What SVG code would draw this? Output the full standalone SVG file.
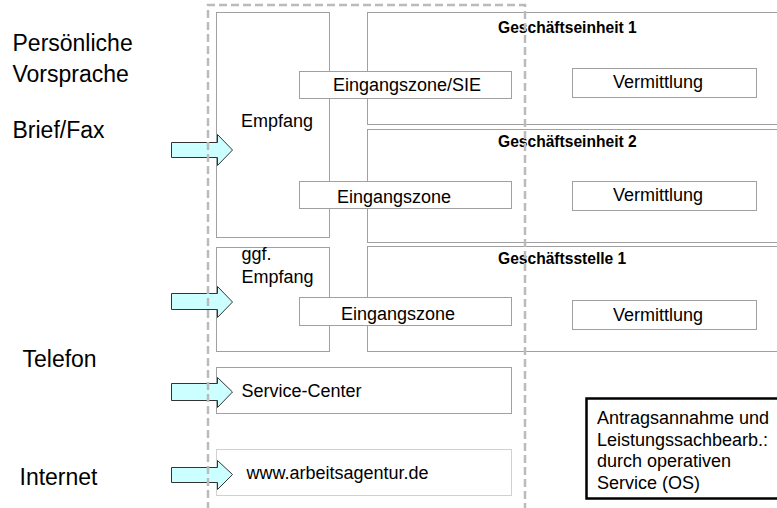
<svg xmlns="http://www.w3.org/2000/svg" width="777" height="508" viewBox="0 0 777 508">
<style>
text{font-family:"Liberation Sans",Arial,Helvetica,sans-serif;fill:#000}
.lbl{font-size:23px}
.t{font-size:18px}
.h{font-size:15.6px;font-weight:bold}
.box{fill:#fff;stroke:#a0a0a0;stroke-width:1}
.dot{fill:#fff;stroke:#a0a0a0;stroke-width:1;stroke-dasharray:1 1}
.arr{fill:#ccffff;stroke:#333;stroke-width:1}
.frame{fill:none;stroke:#bbb;stroke-width:2.5;stroke-dasharray:8 4}
</style>
<rect width="777" height="508" fill="#fff"/>
<g id="labels">
<text class="lbl" x="12.5" y="51">Persönliche</text>
<text class="lbl" x="12.5" y="82">Vorsprache</text>
<text class="lbl" x="12.5" y="138">Brief/Fax</text>
<text class="lbl" x="22.5" y="367">Telefon</text>
<text class="lbl" x="19.5" y="485">Internet</text>
</g>
<g id="empfang"><rect class="box" x="216.5" y="12.5" width="113" height="225"/><text class="t" x="241" y="127">Empfang</text></g>
<g id="ggf-empfang"><rect class="box" x="216.5" y="247.5" width="113" height="104"/><text class="t" x="241.5" y="260">ggf.</text><text class="t" x="241.5" y="283">Empfang</text></g>
<g id="ge1"><rect class="box" x="367.5" y="12.5" width="430" height="112"/><text class="h" x="498" y="32.5">Geschäftseinheit 1</text></g>
<g id="ge2"><rect class="box" x="367.5" y="129.5" width="430" height="113"/><text class="h" x="498" y="146.5">Geschäftseinheit 2</text></g>
<g id="gs1"><rect class="box" x="367.5" y="246.5" width="430" height="105"/><text class="h" x="498" y="264">Geschäftsstelle 1</text></g>
<g id="ez-sie"><rect class="box" x="299.5" y="71.5" width="212" height="27"/><text class="t" x="333" y="91">Eingangszone/SIE</text></g>
<g id="ez2"><rect class="box" x="299.5" y="181.5" width="212" height="27"/><text class="t" x="337" y="203">Eingangszone</text></g>
<g id="ez3"><rect class="box" x="299.5" y="297.5" width="212" height="28"/><text class="t" x="341" y="319.5">Eingangszone</text></g>
<g id="verm1"><rect class="box" x="572.5" y="68.5" width="184" height="29"/><text class="t" x="613" y="87.5">Vermittlung</text></g>
<g id="verm2"><rect class="box" x="572.5" y="181.5" width="184" height="29"/><text class="t" x="613" y="201">Vermittlung</text></g>
<g id="verm3"><rect class="box" x="572.5" y="300.5" width="184" height="29"/><text class="t" x="613" y="321">Vermittlung</text></g>
<g id="service-center"><rect class="box" x="216.5" y="367.5" width="295" height="46"/><text class="t" x="241.5" y="397">Service-Center</text></g>
<g id="internet"><rect class="dot" x="216.5" y="449.5" width="295" height="46"/><text class="t" x="246.5" y="478.5">www.arbeitsagentur.de</text></g>
<g id="os"><rect x="586.5" y="398.5" width="210" height="100" fill="#fff" stroke="#000" stroke-width="2.5"/>
<text class="t" x="597" y="423.5">Antragsannahme und</text>
<text class="t" x="597" y="446">Leistungssachbearb.:</text>
<text class="t" x="597" y="467">durch operativen</text>
<text class="t" x="597" y="488.5">Service (OS)</text></g>
<g id="connectors">
<path class="arr" d="M171.5,142.5 H217.5 V134.5 L232.5,150 L217.5,165.5 V157.5 H171.5 Z"/>
<path class="arr" d="M171.5,293.5 H217.5 V286.5 L232.5,302 L217.5,317.5 V309.5 H171.5 Z"/>
<path class="arr" d="M171.5,383.5 H217.5 V377.5 L232.5,392 L217.5,407.5 V400.5 H171.5 Z"/>
<path class="arr" d="M171.5,467.5 H217.5 V460.5 L232.5,474.5 L217.5,489.5 V482.5 H171.5 Z"/>
</g>
<g id="frame"><path class="frame" d="M208,510 V5 H525 V510"/></g>
</svg>
